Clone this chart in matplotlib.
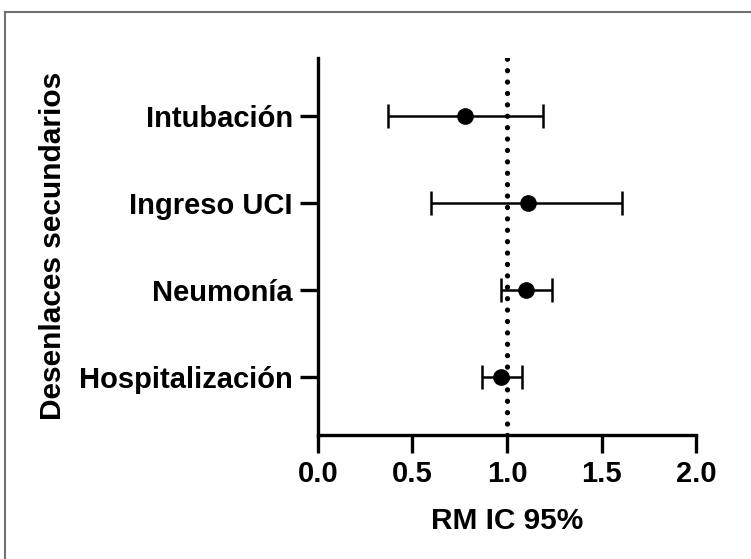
import matplotlib
matplotlib.use("Agg")
import matplotlib.pyplot as plt
from matplotlib.lines import Line2D

categories = ["Intubación", "Ingreso UCI", "Neumonía", "Hospitalización"]
estimates = [0.78, 1.11, 1.10, 0.97]
ci_low = [0.37, 0.60, 0.97, 0.87]
ci_high = [1.19, 1.61, 1.24, 1.08]
x_ticks = [0.0, 0.5, 1.0, 1.5, 2.0]

plt.rcParams['font.family'] = ['Liberation Sans', 'DejaVu Sans']
plt.rcParams['font.weight'] = 'bold'

fig = plt.figure(figsize=(7.51, 5.59), dpi=100)
ax = fig.add_axes([0.4234, 0.2218, 0.9268 - 0.4234, 0.8962 - 0.2218])

ypos = list(range(len(categories), 0, -1))
xerr = [[e - l for e, l in zip(estimates, ci_low)], [h - e for e, h in zip(estimates, ci_high)]]

ax.axvline(1.0, color='black', linewidth=3.8, linestyle=(0, (0.01, 2.15)),
           dash_capstyle='round', zorder=1)
ax.errorbar(estimates, ypos, xerr=xerr, fmt='o', color='black', markersize=11,
            elinewidth=1.8, capsize=8.5, capthick=1.8, zorder=3)

ax.set_xlim(0, 2)
ax.set_ylim(0.333, 4.66)
ax.set_xticks(x_ticks)
ax.set_xticklabels([f"{v:.1f}" for v in x_ticks])
ax.set_yticks(ypos)
ax.set_yticklabels(categories)
for s in ['top', 'right']:
    ax.spines[s].set_visible(False)
for s in ['left', 'bottom']:
    ax.spines[s].set_linewidth(2.4)
ax.tick_params(axis='both', width=2.4, length=13, labelsize=21, pad=5)
for lab in ax.get_xticklabels() + ax.get_yticklabels():
    lab.set_fontweight('bold')

ax.set_xlabel("RM IC 95%", fontsize=21.5, fontweight='bold', labelpad=14)
fig.text(53 / 751, 1 - 246 / 559, "Desenlaces secundarios", rotation=90,
         fontsize=21.5, fontweight='bold', ha='center', va='center')

fig.add_artist(Line2D([5 / 751, 5 / 751], [0, 1 - 12 / 559], transform=fig.transFigure,
                      color='#707070', linewidth=1.5))
fig.add_artist(Line2D([5 / 751, 1], [1 - 12 / 559, 1 - 12 / 559], transform=fig.transFigure,
                      color='#707070', linewidth=1.5))

fig.savefig("out.png", dpi=100)
